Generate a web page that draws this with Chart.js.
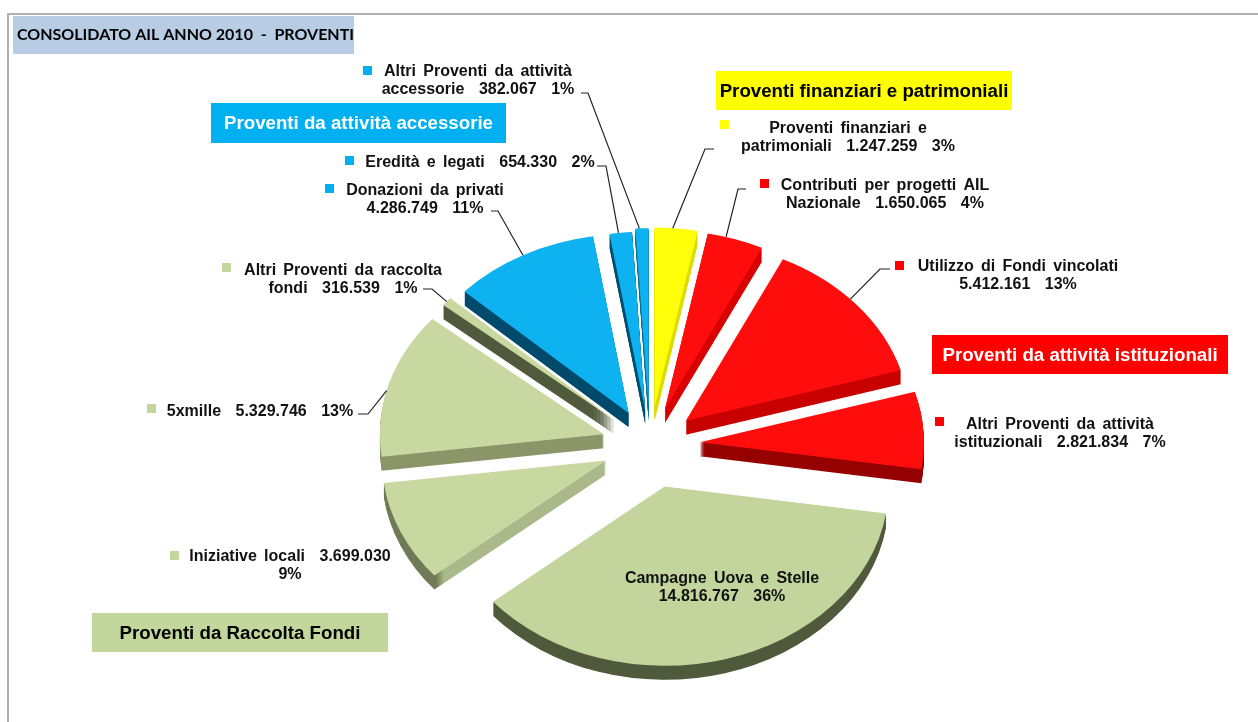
<!DOCTYPE html>
<html>
<head>
<meta charset="utf-8">
<title>Consolidato AIL 2010 - Proventi</title>
<script src="https://cdn.jsdelivr.net/npm/chart.js@4"></script>
<style>
  html, body { margin: 0; padding: 0; background: #fff; }
  canvas { display: block; }
</style>
</head>
<body>
<canvas id="chart" width="1258" height="722"></canvas>
<script>
const categories = [
  "Proventi finanziari e patrimoniali",
  "Contributi per progetti AIL Nazionale",
  "Utilizzo di Fondi vincolati",
  "Altri Proventi da attività istituzionali",
  "Campagne Uova e Stelle",
  "Iniziative locali",
  "5xmille",
  "Altri Proventi da raccolta fondi",
  "Donazioni da privati",
  "Eredità e legati",
  "Altri Proventi da attività accessorie",
];
const values = [1247259, 1650065, 5412161, 2821834, 14816767, 3699030, 5329746, 316539, 4286749, 654330, 382067];
const labelLines = [
  ["Proventi finanziari e", "patrimoniali  1.247.259  3%"],
  ["Contributi per progetti AIL", "Nazionale  1.650.065  4%"],
  ["Utilizzo di Fondi vincolati", "5.412.161  13%"],
  ["Altri Proventi da attività", "istituzionali  2.821.834  7%"],
  ["Campagne Uova e Stelle", "14.816.767  36%"],
  ["Iniziative locali  3.699.030", "9%"],
  ["5xmille  5.329.746  13%"],
  ["Altri Proventi da raccolta", "fondi  316.539  1%"],
  ["Donazioni da privati", "4.286.749  11%"],
  ["Eredità e legati  654.330  2%"],
  ["Altri Proventi da attività", "accessorie  382.067  1%"],
];
const groupTitles = [
  "Proventi finanziari e patrimoniali",
  "Proventi da attività accessorie",
  "Proventi da attività istituzionali",
  "Proventi da Raccolta Fondi",
];
const chartTitle = "CONSOLIDATO AIL ANNO 2010  -  PROVENTI";

// look of the slices
const topColors = ["#ffff0a", "#ff0d0d", "#ff0d0d", "#ff0d0d", "#c3d59c", "#c8d8a0", "#c8d8a0", "#c8d8a0", "#0fb2f0", "#0fb2f0", "#0fb2f0"];
const sideColors = ["#dcdc00", "#d80000", "#c80000", "#960000", "#505a3c", "#a9b98a", "#8b9669", "#505a3c", "#004a6c", "#03506f", "#0b6d91"];
const keyColors = ["#ffff00", "#ff0000", "#ff0000", "#ff0000", "", "#c3d69b", "#c3d69b", "#c3d69b", "#00b0f0", "#00b0f0", "#00b0f0"];
const explode = [48, 47, 47, 50, 54, 48, 48, 47, 45, 43, 47];
const leaderAt = [0.42, 0.33, 0.45, 0.5, 0.5, 0.5, 0.45, 0.5, 0.5, 0.4, 0.3];
const SQUASH = 0.8;
const DEPTH = 14;

// label layout: text centre, first line y, key square, leader elbow
const labelBoxes = [
  { x: 848, y: 128, key: [720, 120], elbow: [[714, 149], [705, 149]] },
  { x: 885, y: 185, key: [760, 179], elbow: [[746, 189], [738, 189]] },
  { x: 1018, y: 266, key: [895, 261], elbow: [[890, 269], [880, 269]] },
  { x: 1060, y: 424, key: [935, 417] },
  { x: 722, y: 578 },
  { x: 290, y: 556, key: [170, 551] },
  { x: 260, y: 411, key: [147, 404], elbow: [[358, 414], [368, 414]] },
  { x: 343, y: 270, key: [222, 263], elbow: [[423, 289], [432, 289]] },
  { x: 425, y: 190, key: [325, 184], elbow: [[491, 211], [498, 211]] },
  { x: 480, y: 162, key: [345, 156], elbow: [[597, 166], [606, 166]] },
  { x: 478, y: 71, key: [363, 66], elbow: [[581, 93], [588, 93]] },
];
const groupBoxes = [
  { x: 716, y: 71, w: 296, h: 39, bg: "#ffff00", fg: "#000000" },
  { x: 211, y: 103, w: 295, h: 40, bg: "#00b0f0", fg: "#ffffff" },
  { x: 932, y: 335, w: 296, h: 39, bg: "#ff0000", fg: "#ffffff" },
  { x: 92, y: 613, w: 296, h: 39, bg: "#c3d69b", fg: "#000000" },
];

// canvas position of a point on the slice's outer edge, after explode and squash
const edgePoint = (arc, i) => {
  const mid = (arc.startAngle + arc.endAngle) / 2;
  const at = arc.startAngle + (arc.endAngle - arc.startAngle) * leaderAt[i];
  return [
    arc.x + Math.cos(at) * arc.outerRadius + Math.cos(mid) * explode[i],
    arc.y + (Math.sin(at) * arc.outerRadius + Math.sin(mid) * explode[i]) * SQUASH,
  ];
};

const pie3d = {
  id: "pie3d",
  beforeDraw(chart) {
    const ctx = chart.ctx;
    ctx.save();
    ctx.fillStyle = "#b0b0b0";
    ctx.fillRect(7, 13, 1251, 2);
    ctx.fillRect(7, 13, 2, 709);
    ctx.fillStyle = "#b8cce4";
    ctx.fillRect(13, 16, 341, 38);
    ctx.fillStyle = "#000";
    ctx.font = "bold 16px Lato";
    ctx.textBaseline = "middle";
    ctx.fillText(chartTitle, 17, 35);
    ctx.restore();
  },
  beforeDatasetDraw(chart) {
    const ctx = chart.ctx;
    const arcs = chart.getDatasetMeta(0).data;
    const paint = (arc, i, color, dy) => {
      const mid = (arc.startAngle + arc.endAngle) / 2;
      const saved = arc.options;
      ctx.save();
      ctx.translate(arc.x, arc.y + dy);
      ctx.scale(1, SQUASH);
      ctx.translate(-arc.x + Math.cos(mid) * explode[i], -arc.y + Math.sin(mid) * explode[i]);
      arc.options = { ...saved, backgroundColor: color, borderWidth: 0 };
      arc.draw(ctx);
      arc.options = saved;
      ctx.restore();
    };
    arcs.forEach((arc, i) => {
      let side = sideColors[i];
      if (i === 5) {
        // Iniziative locali: curved outer wall is darker than the straight one
        side = ctx.createLinearGradient(arc.x - 170, 0, arc.x - 162, 0);
        side.addColorStop(0, "#6f7a56");
        side.addColorStop(1, sideColors[i]);
      }
      for (let d = DEPTH; d > 0; d--) paint(arc, i, side, d);
    });
    arcs.forEach((arc, i) => paint(arc, i, topColors[i], 0));
    return false;
  },
  afterDraw(chart) {
    const ctx = chart.ctx;
    const arcs = chart.getDatasetMeta(0).data;
    ctx.save();
    ctx.textAlign = "center";
    ctx.textBaseline = "middle";

    // leaders
    ctx.strokeStyle = "#222";
    ctx.lineWidth = 1.2;
    labelBoxes.forEach((box, i) => {
      if (!box.elbow) return;
      const end = edgePoint(arcs[i], i);
      ctx.beginPath();
      ctx.moveTo(box.elbow[0][0], box.elbow[0][1]);
      ctx.lineTo(box.elbow[1][0], box.elbow[1][1]);
      ctx.lineTo(end[0], end[1]);
      ctx.stroke();
    });

    // data labels
    ctx.font = "bold 16px 'Liberation Sans'";
    ctx.fillStyle = "#111";
    ctx.wordSpacing = "2.8px";
    labelBoxes.forEach((box, i) => {
      labelLines[i].forEach((line, n) => ctx.fillText(line, box.x, box.y + 1 + n * 17.5));
      if (box.key) {
        ctx.fillStyle = keyColors[i];
        ctx.fillRect(box.key[0], box.key[1], 9, 9);
        ctx.fillStyle = "#111";
      }
    });

    // group boxes
    ctx.wordSpacing = "0px";
    ctx.font = "bold 18.7px 'Liberation Sans'";
    groupBoxes.forEach((box, i) => {
      ctx.fillStyle = box.bg;
      ctx.fillRect(box.x, box.y, box.w, box.h);
      ctx.fillStyle = box.fg;
      ctx.fillText(groupTitles[i], box.x + box.w / 2, box.y + box.h / 2 + 1);
    });
    ctx.restore();
  },
};

new Chart(document.getElementById("chart"), {
  type: "pie",
  data: {
    labels: categories,
    datasets: [{ data: values, backgroundColor: topColors, borderWidth: 0 }],
  },
  options: {
    responsive: false,
    animation: false,
    radius: 224,
    layout: { padding: { left: 42, top: 168, right: 0, bottom: 0 } },
    plugins: { legend: { display: false }, tooltip: { enabled: false } },
  },
  plugins: [pie3d],
});
</script>
</body>
</html>
